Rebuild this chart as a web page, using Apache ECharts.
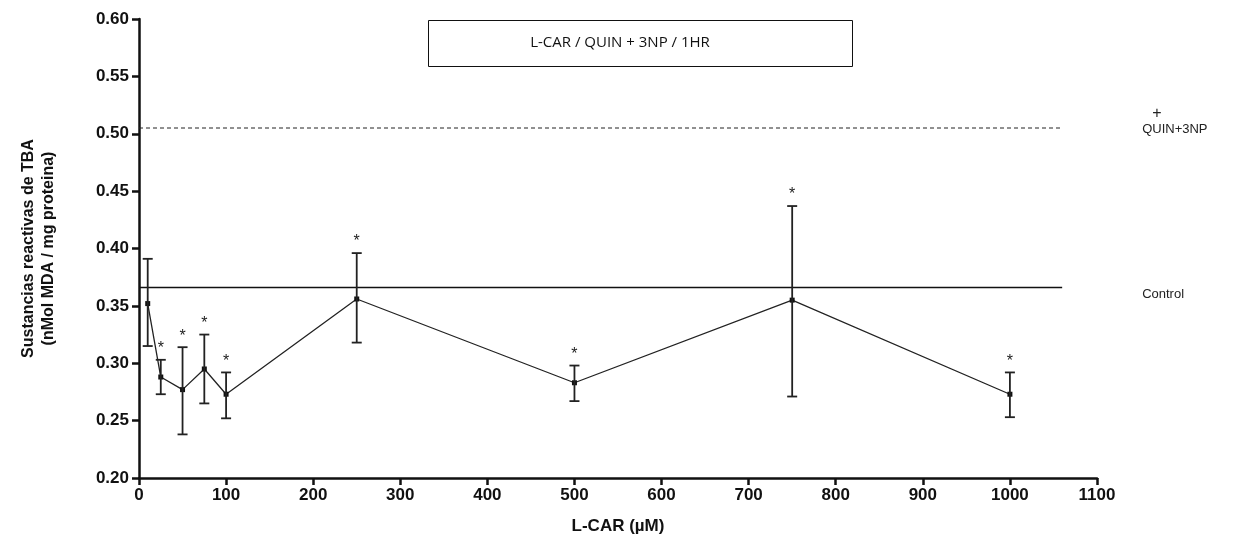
<!DOCTYPE html>
<html>
<head>
<meta charset="utf-8">
<script src="https://cdn.jsdelivr.net/npm/echarts@6/dist/echarts.min.js"></script>
<style>
  html, body { margin: 0; padding: 0; background: #fff; }
  #chart { width: 1240px; height: 553px; }
</style>
</head>
<body>
<div id="chart"></div>
<script>
// L-CAR dose (µM) and TBA reactive substances (mean with error bar ends)
const doses = [10, 25, 50, 75, 100, 250, 500, 750, 1000];
const means = [0.352, 0.288, 0.277, 0.295, 0.273, 0.356, 0.283, 0.355, 0.273];
const errUpper = [0.391, 0.303, 0.314, 0.325, 0.292, 0.396, 0.298, 0.437, 0.292];
const errLower = [0.315, 0.273, 0.238, 0.265, 0.252, 0.318, 0.267, 0.271, 0.253];
const significant = [false, true, true, true, true, true, true, true, true];

// reference levels
const controlLevel = 0.366;
const quinLevel = 0.505;
const refLineEnd = 1060;

const axisFont = { fontFamily: 'Liberation Sans', fontWeight: 'bold', fontSize: 17, color: '#111' };

const chart = echarts.init(document.getElementById('chart'));

const errData = doses.map((d, i) => [d, errLower[i], errUpper[i], significant[i] ? 1 : 0]);

function renderErr(params, api) {
  const x = api.value(0);
  const lo = api.coord([x, api.value(1)]);
  const hi = api.coord([x, api.value(2)]);
  const cap = 5;
  const style = { stroke: '#222', lineWidth: 1.8 };
  const children = [
    { type: 'line', shape: { x1: lo[0], y1: lo[1], x2: hi[0], y2: hi[1] }, style },
    { type: 'line', shape: { x1: lo[0] - cap, y1: lo[1], x2: lo[0] + cap, y2: lo[1] }, style },
    { type: 'line', shape: { x1: hi[0] - cap, y1: hi[1], x2: hi[0] + cap, y2: hi[1] }, style }
  ];
  if (api.value(3)) {
    children.push({
      type: 'text',
      style: {
        text: '*', x: hi[0], y: hi[1] - 3,
        align: 'center', verticalAlign: 'bottom',
        font: '16px "Liberation Sans"', fill: '#222'
      }
    });
  }
  return { type: 'group', children };
}

chart.setOption({
  animation: false,
  backgroundColor: '#fff',
  grid: { left: 139, right: 143, top: 19, bottom: 75 },
  graphic: [
    {
      type: 'rect',
      left: 428, top: 20,
      shape: { width: 424, height: 46 },
      style: { fill: '#fff', stroke: '#111', lineWidth: 1 }
    },
    {
      type: 'text',
      left: 'center', top: 35,
      style: { text: 'L-CAR / QUIN + 3NP / 1HR', font: '15px "Open Sans"', fill: '#111' }
    }
  ],
  xAxis: {
    type: 'value',
    min: 0, max: 1100, interval: 100,
    name: 'L-CAR (µM)',
    nameLocation: 'middle',
    nameGap: 40,
    nameTextStyle: axisFont,
    axisLine: { show: true, onZero: false, lineStyle: { color: '#111', width: 2.5 } },
    axisTick: { show: true, length: 7, lineStyle: { color: '#111', width: 2.5 } },
    axisLabel: Object.assign({ margin: 9, formatter: v => String(v) }, axisFont),
    splitLine: { show: false }
  },
  yAxis: {
    type: 'value',
    min: 0.2, max: 0.6, interval: 0.05,
    name: 'Sustancias reactivas de TBA\n(nMol MDA / mg proteina)',
    nameLocation: 'middle',
    nameGap: 80,
    nameTextStyle: Object.assign({ lineHeight: 20 }, axisFont, { fontSize: 16 }),
    axisLine: { show: true, onZero: false, lineStyle: { color: '#111', width: 2.5 } },
    axisTick: { show: true, length: 7, lineStyle: { color: '#111', width: 2.5 } },
    axisLabel: Object.assign({ margin: 10, formatter: v => v.toFixed(2) }, axisFont),
    splitLine: { show: false }
  },
  series: [
    {
      name: 'Control',
      type: 'line',
      data: [[0, controlLevel], [refLineEnd, controlLevel]],
      symbol: 'none',
      lineStyle: { color: '#111', width: 1.3 },
      endLabel: {
        show: true, formatter: 'Control', distance: 80, offset: [0, 7],
        fontFamily: 'Liberation Sans', fontSize: 13, color: '#222'
      },
      silent: true
    },
    {
      name: 'QUIN+3NP',
      type: 'line',
      data: [[0, quinLevel], [refLineEnd, quinLevel]],
      symbol: 'none',
      lineStyle: { color: '#222', width: 1, type: [4, 3] },
      endLabel: {
        show: true, distance: 80, offset: [0, -6],
        formatter: '{p|+}\n{t|QUIN+3NP}',
        rich: {
          p: { fontFamily: 'Liberation Sans', fontSize: 16, color: '#222', padding: [0, 0, 0, 10], lineHeight: 14 },
          t: { fontFamily: 'Liberation Sans', fontSize: 13, color: '#222', lineHeight: 16 }
        }
      },
      silent: true
    },
    {
      name: 'L-CAR',
      type: 'line',
      data: doses.map((d, i) => [d, means[i]]),
      symbol: 'rect',
      symbolSize: 5,
      itemStyle: { color: '#111' },
      lineStyle: { color: '#222', width: 1.3 },
      z: 3
    },
    {
      name: 'err',
      type: 'custom',
      renderItem: renderErr,
      data: errData,
      encode: { x: 0, y: [1, 2] },
      z: 4
    }
  ]
});
</script>
</body>
</html>
